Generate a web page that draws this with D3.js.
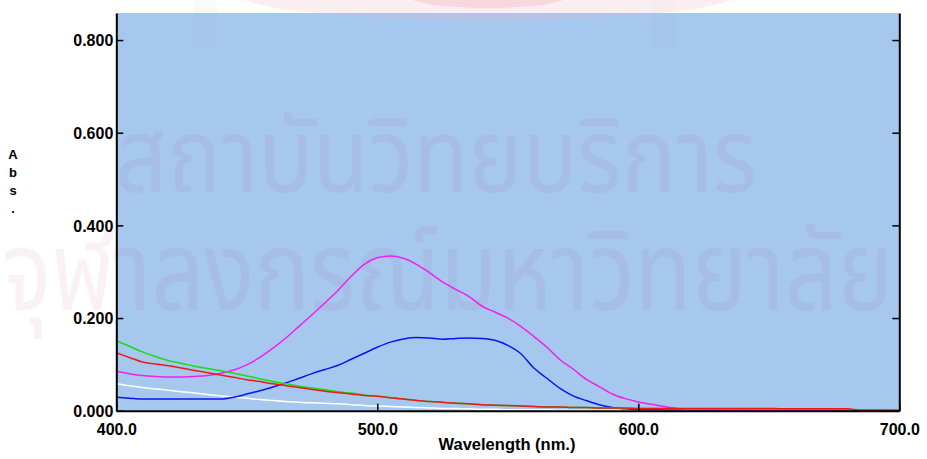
<!DOCTYPE html>
<html>
<head>
<meta charset="utf-8">
<script src="https://cdn.jsdelivr.net/npm/d3@7"></script>
<style>
  html, body { margin: 0; padding: 0; background: #ffffff; }
  svg { display: block; }
  .tick text { font-family: "Liberation Sans", Arial, sans-serif; font-weight: bold; font-size: 16px; fill: #000; }
</style>
</head>
<body>
<svg id="chart" width="927" height="459"></svg>
<script>
// Wavelength grid (nm), 5 nm steps
const wavelengths = d3.range(400, 701, 5);

// Absorbance spectra, one value per wavelength
const magentaAbs = [
  0.085, 0.080, 0.076, 0.074, 0.073, 0.073, 0.074, 0.076, 0.081, 0.088,
  0.099, 0.115, 0.135, 0.157, 0.182, 0.207, 0.233, 0.260, 0.290, 0.316,
  0.330, 0.334, 0.329, 0.316, 0.298, 0.278, 0.262, 0.247, 0.226, 0.213,
  0.200, 0.182, 0.160, 0.137, 0.110, 0.090, 0.068, 0.052, 0.036, 0.026,
  0.019, 0.014, 0.009, 0.005, 0.003, 0.002, 0.002, 0.001, 0.001, 0.001,
  0.001, 0.001, 0.001, 0.000, 0.000, 0.000, 0.000, 0.000, 0.000, 0.000,
  0.000
];
const blueAbs = [
  0.029, 0.027, 0.025, 0.025, 0.025, 0.025, 0.025, 0.025, 0.025, 0.029,
  0.036, 0.043, 0.051, 0.060, 0.070, 0.080, 0.089, 0.098, 0.111, 0.124,
  0.137, 0.148, 0.155, 0.158, 0.157, 0.154, 0.156, 0.157, 0.156, 0.152,
  0.141, 0.123, 0.092, 0.070, 0.048, 0.032, 0.022, 0.013, 0.007, 0.004,
  0.002, 0.002, 0.002, 0.002, 0.002, 0.002, 0.001, 0.001, 0.001, 0.001,
  0.001, 0.001, 0.001, 0.001, 0.001, 0.001, 0.001, 0.001, 0.001, 0.001,
  0.001
];
const greenAbs = [
  0.151, 0.139, 0.127, 0.117, 0.108, 0.102, 0.096, 0.091, 0.086, 0.081,
  0.075, 0.069, 0.063, 0.058, 0.053, 0.049, 0.045, 0.041, 0.038, 0.034,
  0.031, 0.028, 0.025, 0.022, 0.020, 0.018, 0.016, 0.015, 0.013, 0.012,
  0.011, 0.010, 0.009, 0.008, 0.008, 0.007, 0.007, 0.006, 0.006, 0.005,
  0.005, 0.005, 0.004, 0.004, 0.004, 0.004, 0.004, 0.004, 0.003, 0.003,
  0.003, 0.003, 0.003, 0.003, 0.003, 0.003, 0.002, 0.002, 0.002, 0.001,
  0.001
];
const redAbs = [
  0.125, 0.115, 0.105, 0.101, 0.097, 0.092, 0.087, 0.082, 0.077, 0.072,
  0.067, 0.063, 0.058, 0.054, 0.050, 0.046, 0.042, 0.039, 0.036, 0.033,
  0.031, 0.028, 0.025, 0.022, 0.020, 0.018, 0.016, 0.015, 0.013, 0.012,
  0.011, 0.010, 0.009, 0.008, 0.008, 0.007, 0.007, 0.006, 0.006, 0.006,
  0.005, 0.005, 0.005, 0.005, 0.005, 0.005, 0.005, 0.005, 0.005, 0.005,
  0.005, 0.004, 0.004, 0.004, 0.004, 0.004, 0.004, 0.001, 0.001, 0.001,
  0.000
];
const whiteAbs = [
  0.058, 0.054, 0.050, 0.047, 0.044, 0.041, 0.038, 0.035, 0.032, 0.029,
  0.027, 0.024, 0.022, 0.020, 0.018, 0.017, 0.016, 0.015, 0.013, 0.011,
  0.010, 0.009, 0.008, 0.007, 0.006, 0.005, 0.005, 0.004, 0.003, 0.003,
  0.002, 0.002, 0.002, 0.002, 0.001, 0.001, 0.001, 0.001, 0.001, 0.001,
  0.001, 0.001, 0.001, 0.001, 0.001, 0.001, 0.001, 0.001, 0.001, 0.001,
  0.001, 0.001, 0.001, 0.001, 0.001, 0.001, 0.001, 0.001, 0.001, 0.001,
  0.001
];

// Series in drawing order (later ones sit on top)
const seriesNames  = ["white", "blue", "magenta", "green", "red"];
const seriesValues = [whiteAbs, blueAbs, magentaAbs, greenAbs, redAbs];
const seriesColors = ["#ffffff", "#0a14f0", "#f020f0", "#10e010", "#f01818"];

// Axis ticks and labels
const xTicks = [400, 500, 600, 700];
const yTicks = [0.0, 0.2, 0.4, 0.6, 0.8];
const xTitle = "Wavelength (nm.)";
const yTitleChars = ["A", "b", "s", "."];

// Background watermark lines
const watermarkLines = ["สถาบันวิทยบริการ", "จุฬาลงกรณ์มหาวิทยาลัย"];

const svg = d3.select("#chart");
const plot = { left: 116.3, right: 899.3, top: 13, bottom: 410.7 };

const x = d3.scaleLinear().domain([400, 700]).range([plot.left, plot.right]);
const y = d3.scaleLinear().domain([0, 0.8584]).range([plot.bottom, plot.top]);

// Plot background
svg.append("rect")
  .attr("x", plot.left).attr("y", plot.top)
  .attr("width", plot.right - plot.left).attr("height", plot.bottom - plot.top)
  .attr("fill", "#a6c8ee");

// Faint emblem at the top centre
const emblem = svg.append("g").attr("opacity", 0.45);
emblem.append("ellipse")
  .attr("cx", 488).attr("cy", -6).attr("rx", 250).attr("ry", 26)
  .attr("fill", "#f0b4c0").attr("opacity", 0.5);
emblem.append("ellipse")
  .attr("cx", 488).attr("cy", -4).attr("rx", 80).attr("ry", 12)
  .attr("fill", "#e86a80").attr("opacity", 0.45);
[205, 663].forEach(cx => {
  emblem.append("rect")
    .attr("x", cx - 12).attr("y", 0).attr("width", 24).attr("height", 50)
    .attr("rx", 6).attr("fill", "#9aa6c0").attr("opacity", 0.12);
});

// Watermark text
const wm = svg.append("g")
  .attr("font-family", "'Noto Sans Thai', 'Noto Sans Thai UI', 'Loma', 'Garuda', 'Norasi', 'Tlwg Typo', 'Noto Sans', sans-serif")
  .attr("fill", "rgb(170,70,140)")
  .attr("fill-opacity", 0.075);
wm.append("text")
  .attr("x", 115).attr("y", 192)
  .attr("font-size", 104)
  .attr("textLength", 642).attr("lengthAdjust", "spacingAndGlyphs")
  .text(watermarkLines[0]);
wm.append("text")
  .attr("x", 2).attr("y", 310)
  .attr("font-size", 110)
  .attr("textLength", 891).attr("lengthAdjust", "spacingAndGlyphs")
  .text(watermarkLines[1]);

// Spectra
const line = d3.line()
  .x((d, i) => x(wavelengths[i]))
  .y(d => y(d))
  .curve(d3.curveMonotoneX);

svg.append("g").selectAll("path")
  .data(seriesValues)
  .join("path")
  .attr("class", (d, i) => "spectrum " + seriesNames[i])
  .attr("d", d => line(d))
  .attr("fill", "none")
  .attr("stroke", (d, i) => seriesColors[i])
  .attr("stroke-width", 1.5);

// Axes with inward ticks
const yAxisLeft = d3.axisLeft(y)
  .tickValues(yTicks).tickFormat(d3.format(".3f"))
  .tickSizeInner(-7).tickSizeOuter(0).tickPadding(3);
const gy = svg.append("g").attr("transform", `translate(${plot.left},0)`).call(yAxisLeft);

const yAxisRight = d3.axisRight(y)
  .tickValues(yTicks).tickFormat("")
  .tickSizeInner(-7).tickSizeOuter(0);
const gr = svg.append("g").attr("transform", `translate(${plot.right},0)`).call(yAxisRight);

const xAxis = d3.axisBottom(x)
  .tickValues(xTicks).tickFormat(d3.format(".1f"))
  .tickSizeInner(-7).tickSizeOuter(0).tickPadding(13);
const gx = svg.append("g").attr("transform", `translate(0,${plot.bottom})`).call(xAxis);

[gy, gr, gx].forEach(g => {
  g.select(".domain").attr("stroke", "#000").attr("stroke-width", 2);
  g.selectAll(".tick line").attr("stroke", "#000").attr("stroke-width", 1.5);
});
gy.selectAll(".tick text").attr("dy", "0.36em");

// Axis titles
svg.append("text")
  .attr("x", 507).attr("y", 450)
  .attr("text-anchor", "middle")
  .attr("font-family", "'Liberation Sans', Arial, sans-serif")
  .attr("font-weight", "bold").attr("font-size", 16.5)
  .text(xTitle);

svg.append("g").selectAll("text")
  .data(yTitleChars)
  .join("text")
  .attr("x", 13).attr("y", (d, i) => 159 + i * 18)
  .attr("text-anchor", "middle")
  .attr("font-family", "'Liberation Sans', Arial, sans-serif")
  .attr("font-weight", "bold").attr("font-size", 13)
  .text(d => d);
</script>
</body>
</html>
